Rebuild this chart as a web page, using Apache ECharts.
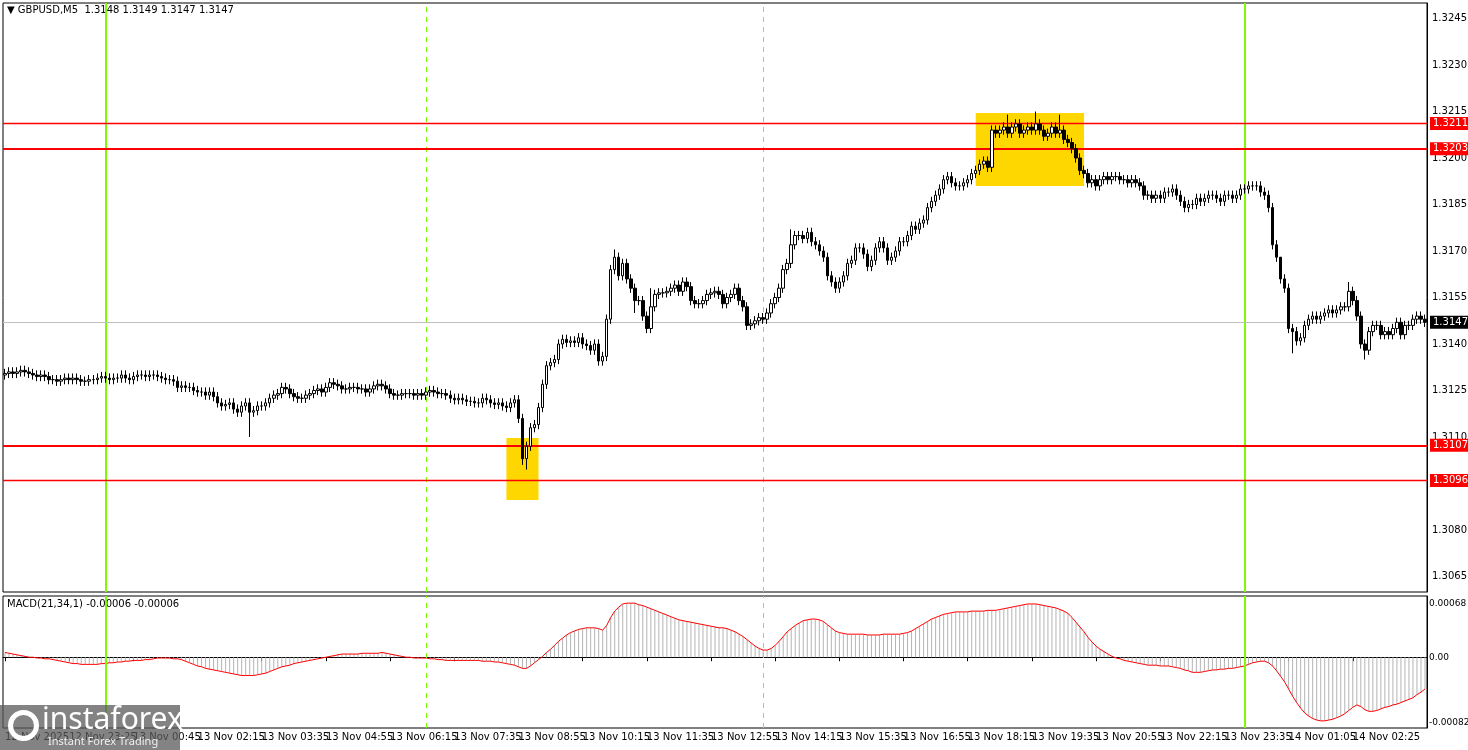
<!DOCTYPE html>
<html><head><meta charset="utf-8">
<script src="https://cdn.jsdelivr.net/npm/echarts@6/dist/echarts.min.js"></script>
<style>html,body{margin:0;padding:0;background:#fff}#c{width:1468px;height:750px}</style>
</head><body><div id="c"></div>
<script>
// prices in pips above 1.3000
const BASE = 1.3;
const closePips = [
130.5,131,130.5,131,131.5,131,130.5,130,129.5,130,
129.5,128.5,128.5,128,128.5,129,128.5,129,128.5,128,
128,128.5,128.5,129,129.5,129,128.5,129,129,130,
129,128.5,129.5,130,130,129.5,130,130,129.5,129,
128.5,128.5,128,126,126.5,126,126,125,124.5,124.5,
123.5,124.5,123,121,120,120.5,121,119,118,120,
121,118,118.5,120,120,121,122.5,123.5,124,126,
125.5,124,123,122.5,122.5,123.5,124,125,125.5,124.5,
126,127.5,127,126.5,125.5,125.5,126,126,125.5,125.5,
124.5,125.5,126.5,127,126.5,125.5,124,123.5,123.5,124,
124,124,123.5,124,123.5,124.5,125,124.5,124,124,
123.5,122.5,122,122.5,122,121.5,121.5,121,121,122.5,
122,121,120.5,121,120,119.5,121,122,116,103,
107,113,114,119.5,127,133,134,135,140,141.5,
140.5,141,140.5,142,140,139.5,138,140,134.5,136,
148,164,168,162,166,161,158,154,154,149,
145,152,156,156.5,156.5,157,158,159,157,160,
158.5,154,153,153,154,156,156.5,157,156,153,
155,156,158,154,152,146,146.5,147.5,148.5,148,
150,153,155,158,164,166,172,175,175,174,
176,173,172,170,168,162,160,158,160,162,
166,167,171,171,169,165,167,171,173,171,
167,168,170,173,173,175,178,177,179,180,
184,186,188,190,193,194,192,191,191,192,
193,195,196,198,199,197,209,208,209,210,
208,210,211,208,209,210,209,211,209,207,
208,210,208,209,206,205,203,200,196,195,
192,193,191,193,194,193,194,194,193,193,
192,193,192,191,188,188,187,188,187,189,
189,190,188,186,184,185,185,187,186,187,
188,188,187,186,188,188,187,188,190,190,
191,191,191,189,188,184,172,168,161,158,
145,144,141,142,146,148,149,148,149,150,
151,150,151,152,152,157,154,149,140,138,
144,146,146,143,144,143,145,147,143,146,
146,148,149,148,147];
const firstOpen = 130;
const highOverride = {152:170.5, 257:215, 250:214, 263:214, 161:158, 196:177, 318:165, 335:160};
const lowOverride = {130:99.5, 129:101, 61:110, 321:137, 339:135, 157:150};
// MACD(21,34,1) in units of 0.00001
const macd = [
6,5,4,3,2,1,0,0,-1,-1,
-2,-2,-3,-4,-5,-6,-7,-8,-8,-9,
-9,-9,-9,-9,-8,-8,-7,-7,-6,-6,
-5,-5,-4,-4,-4,-3,-3,-2,-1,-1,
-1,-1,-2,-2,-3,-5,-7,-9,-11,-12,
-14,-15,-16,-17,-18,-19,-20,-21,-22,-23,
-23,-23,-23,-22,-21,-20,-18,-16,-14,-12,
-11,-10,-8,-7,-6,-5,-4,-3,-2,-1,
0,1,2,3,4,4,4,4,4,5,
5,5,5,5,6,5,4,3,2,1,
0,0,-1,-1,-1,-1,-2,-2,-3,-3,
-4,-4,-4,-4,-4,-4,-4,-4,-4,-5,
-5,-5,-6,-6,-7,-8,-9,-10,-12,-14,
-14,-11,-7,-3,1,6,10,15,20,24,
28,31,33,35,36,37,37,37,36,34,
40,50,58,63,67,68,68,68,66,65,
63,61,59,57,55,53,51,49,47,46,
45,44,43,42,41,40,39,38,37,37,
36,34,32,29,26,22,18,14,11,9,
9,11,15,20,26,32,36,40,43,46,
47,48,48,47,45,41,37,33,31,30,
29,29,29,29,29,28,28,28,28,29,
29,29,29,29,30,31,33,36,39,42,
45,48,50,52,54,55,56,57,57,57,
57,58,58,58,58,59,59,59,60,61,
62,63,64,65,66,67,67,67,66,65,
64,63,62,60,58,55,50,44,38,32,
25,19,14,10,7,4,1,-1,-2,-4,
-5,-6,-7,-8,-9,-10,-10,-10,-11,-11,
-11,-12,-13,-14,-16,-17,-19,-19,-19,-18,
-17,-16,-16,-15,-15,-14,-14,-13,-12,-11,
-9,-7,-6,-5,-5,-7,-11,-17,-24,-31,
-40,-49,-57,-64,-70,-74,-77,-79,-80,-80,
-79,-78,-76,-74,-71,-67,-63,-60,-62,-66,
-68,-68,-67,-65,-63,-62,-60,-59,-57,-55,
-53,-51,-47,-44,-40];
const tickIdx = [0,16,32,48,64,80,96,112,128,144,160,176,192,208,224,240,256,272,288,304,320,336,352];
const tickLabels = ['12 Nov 2025','12 Nov 23:25','13 Nov 00:45','13 Nov 02:15','13 Nov 03:35','13 Nov 04:55','13 Nov 06:15','13 Nov 07:35','13 Nov 08:55','13 Nov 10:15','13 Nov 11:35','13 Nov 12:55','13 Nov 14:15','13 Nov 15:35','13 Nov 16:55','13 Nov 18:15','13 Nov 19:35','13 Nov 20:55','13 Nov 22:15','13 Nov 23:35','14 Nov 01:05','14 Nov 02:25','14 Nov 03:45'];
const priceLevels = [211.1, 203.0, 107.3, 96.0];
const levelLabels = ['1.3211', '1.3203', '1.3107', '1.3096'];
const currentPrice = 147;
const greenSolidIdx = [25, 309];
const greenDashIdx = [105, 189];
const zone1 = {from:125, to:133, hi:109.7, lo:89.7};
const zone2 = {from:242, to:269, hi:214.5, lo:191.0};

const cats = closePips.map((_, i) => String(i));
const candles = closePips.map((c, i) => {
  const o = i === 0 ? firstOpen : closePips[i-1];
  const hi = highOverride[i] !== undefined ? highOverride[i] : Math.max(o, c) + 1.5;
  const lo = lowOverride[i] !== undefined ? lowOverride[i] : Math.min(o, c) - 1.5;
  return [o, c, lo, hi];
});
const fmtP = v => (BASE + v/1e4).toFixed(4);
const F = 'Tahoma, "DejaVu Sans", sans-serif';
const vlines = [
  ...greenSolidIdx.map(x => ({xAxis: x, lineStyle:{color:'#7cfc00', width:2, type:'solid'}})),
  ...greenDashIdx.map(x => ({xAxis: x, lineStyle:{color:'#7cfc00', width:1, type:[5,5]}}))
];
const chart = echarts.init(document.getElementById('c'));
chart.setOption({
  animation:false,
  backgroundColor:'#fff',
  textStyle:{fontFamily:F},
  grid:[
    {left:3, right:41, top:3, height:589, show:true, borderColor:'#000', borderWidth:1, outerBoundsMode:'none', containLabel:false},
    {left:3, right:41, top:596, height:132, show:true, borderColor:'#000', borderWidth:1, outerBoundsMode:'none', containLabel:false}
  ],
  xAxis:[
    {type:'category', data:cats, gridIndex:0, boundaryGap:true, axisLine:{show:false}, axisTick:{show:false}, axisLabel:{show:false}},
    {type:'category', data:cats, gridIndex:1, boundaryGap:true, axisLine:{lineStyle:{color:'#000'}},
     axisTick:{show:true, alignWithLabel:true, length:4, interval:(i)=>tickIdx.includes(i), lineStyle:{color:'#000'}},
     axisLabel:{interval:(i)=>tickIdx.includes(i), align:'left', margin:4, fontSize:10, color:'#000', hideOverlap:false,
       formatter:(v)=>tickLabels[tickIdx.indexOf(+v)] || ''}}
  ],
  yAxis:[
    {type:'value', gridIndex:0, position:'right', min:60, max:250, interval:5, splitLine:{show:false},
     axisLine:{show:true, lineStyle:{color:'#000'}}, axisTick:{show:false},
     axisLabel:{fontSize:10, color:'#000', margin:5, formatter:v => ((Math.round(v)-65)%15===0 && v<250) ? fmtP(v) : ''}},
    {type:'value', gridIndex:1, position:'right', min:-89, max:77, interval:1, splitLine:{show:false},
     axisLine:{show:true, lineStyle:{color:'#000'}}, axisTick:{show:false},
     axisLabel:{fontSize:9, color:'#000', margin:2, formatter:v => v===68 ? '0.00068' : v===0 ? '0.00' : v===-82 ? '-0.00082' : ''}}
  ],
  series:[
    {type:'candlestick', xAxisIndex:0, yAxisIndex:0, data:candles, barWidth:3, z:5,
     itemStyle:{color:'#fff', color0:'#000', borderColor:'#000', borderColor0:'#000', borderWidth:1},
     markArea:{silent:true, itemStyle:{color:'#ffd700', opacity:1}, data:[
       [{xAxis:zone1.from, yAxis:zone1.hi},{xAxis:zone1.to, yAxis:zone1.lo}],
       [{xAxis:zone2.from, yAxis:zone2.hi},{xAxis:zone2.to, yAxis:zone2.lo}]
     ]},
     markLine:{silent:true, symbol:'none', animation:false, data:[
       ...vlines.map(v => ({...v, label:{show:false}})),
       {yAxis:currentPrice, lineStyle:{color:'#c0c0c0', width:1, type:'solid'},
        label:{show:true, position:'end', formatter:fmtP(currentPrice), backgroundColor:'#000', color:'#fff', fontSize:10, padding:[2,3,1,3], distance:3}},
       ...priceLevels.map((p, k) => ({yAxis:p, lineStyle:{color:'#ff0000', width:(k===1||k===2)?2:1.3, type:'solid', opacity:1},
        label:{show:true, position:'end', formatter:levelLabels[k], backgroundColor:'#ff0000', color:'#fff', fontSize:10, padding:[2,3,1,3], distance:3}}))
     ]}
    },
    {type:'bar', xAxisIndex:1, yAxisIndex:1, data:macd, barWidth:1, itemStyle:{color:'#b4b4b4'},
     markLine:{silent:true, symbol:'none', label:{show:false}, data:vlines}},
    {type:'line', xAxisIndex:1, yAxisIndex:1, data:macd, showSymbol:false, smooth:false, lineStyle:{color:'#ff0000', width:1}}
  ],
  graphic:[
    {type:'text', left:7, top:5, style:{text:'▼ GBPUSD,M5  1.3148 1.3149 1.3147 1.3147', font:'10px '+F, fill:'#000'}},
    {type:'text', left:7, top:599, style:{text:'MACD(21,34,1) -0.00006 -0.00006', font:'10px '+F, fill:'#000'}},
    {type:'rect', left:0, top:705, shape:{width:180, height:45}, style:{fill:'rgba(90,90,90,0.75)'}, z:100},
    {type:'circle', left:8, top:710, shape:{r:13}, style:{fill:'none', stroke:'#fff', lineWidth:5}, z:101},
    {type:'text', left:42, top:705, style:{text:'instaforex', font:'30px "Noto Sans", sans-serif', fill:'#fff'}, z:101},
    {type:'text', left:48, top:736, style:{text:'Instant Forex Trading', font:'11px "Noto Sans", sans-serif', fill:'#eee'}, z:101}
  ]
});
</script></body></html>
